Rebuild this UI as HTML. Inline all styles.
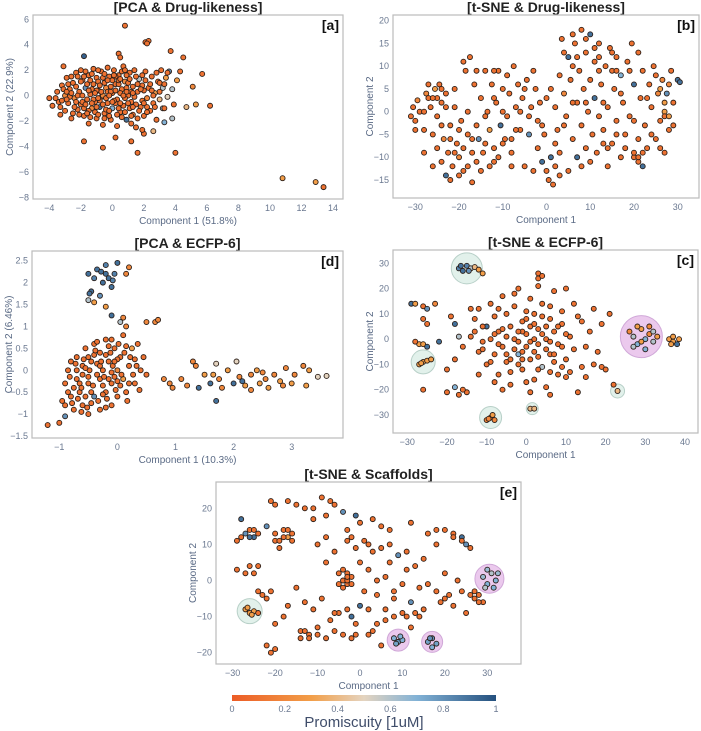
<!DOCTYPE html>
<html><head><meta charset="utf-8"><style>
body{margin:0;background:#fff;width:701px;height:731px;overflow:hidden;font-family:"Liberation Sans",sans-serif}
svg{position:absolute;left:0;top:0}
</style></head><body>
<svg id="chart" width="701" height="731" xmlns="http://www.w3.org/2000/svg"></svg>
<script>
const aTicksX=[-4,-2,0,2,4,6,8,10,12,14], aTicksY=[-8,-6,-4,-2,0,2,4,6];
const bTicksX=[-30,-20,-10,0,10,20,30], bTicksY=[-15,-10,-5,0,5,10,15,20];
const dTicksX=[-1,0,1,2,3], dTicksY=[-1.5,-1,-0.5,0,0.5,1,1.5,2,2.5];
const cTicksX=[-30,-20,-10,0,10,20,30,40], cTicksY=[-30,-20,-10,0,10,20,30];
const eTicksX=[-30,-20,-10,0,10,20,30], eTicksY=[-20,-10,0,10,20];
const cbTicks=[0,0.2,0.4,0.6,0.8,1];
const aPoints=[[0.8,5.5,.1],[2.1,4.2,.1],[2.3,4.3,.1],[2.2,4.1,.1],[3.7,3.5,.1],[0.4,3.3,.1],[0.5,3.0,.1],[-1.8,3.1,.95],[-3.1,2.3,.1],[4.5,3.0,.1],[5.7,1.7,.1],[5.1,0.7,.2],[6.2,-0.8,.1],[5.3,-0.7,.3],[4.7,-0.9,.4],[-1.8,-3.6,.1],[-0.6,-4.1,.1],[0.2,-3.3,.1],[1.6,-4.5,.1],[4.0,-4.5,.1],[1.2,-3.6,.1],[10.8,-6.5,.3],[12.9,-6.8,.3],[13.4,-7.2,.1],[3.8,-1.8,.6],[3.3,-2.1,.7],[3.2,-1.0,.65],[2.6,-2.8,.4],[-4,-0.2,.1],[-3.8,-0.8,.1],[-3.3,-1.5,.1],[2,-3,.1],[1.9,-2.7,.1],
[-3.5,0.3,.1],[-3.4,-0.5,.1],[-3.2,0.8,.1],[-3.0,-1.2,.1],[-3.0,0.0,.2],[-2.9,1.4,.1],[-2.8,-0.6,.1],[-2.7,0.5,.1],[-2.6,-1.8,.1],[-2.5,1.0,.1],[-2.4,-0.2,.2],[-2.3,1.8,.1],[-2.2,-1.1,.1],[-2.1,0.3,.1],[-2.0,2.0,.1],[-2.0,-0.7,.1],[-1.9,1.2,.1],[-1.8,-1.6,.1],[-1.7,0.6,.8],[-1.6,-0.3,.1],[-1.5,1.6,.1],[-1.5,-2.2,.1],[-1.4,0.1,.1],[-1.3,-1.0,.2],[-1.2,2.1,.1],[-1.2,0.9,.1],[-1.1,-0.5,.1],[-1.0,1.4,.1],[-1.0,-1.8,.1],[-0.9,0.4,.1],[-0.8,-0.9,.9],[-0.7,1.9,.1],[-0.7,-0.1,.1],[-0.6,-2.3,.1],[-0.5,1.0,.1],[-0.5,-1.4,.1],[-0.4,0.6,.2],[-0.3,2.2,.1],[-0.3,-0.6,.1],[-0.2,1.5,.1],[-0.1,-1.9,.1],[0.0,0.2,.1],[0.0,-1.0,.7],[0.1,2.0,.1],[0.2,0.9,.1],[0.3,-0.3,.1],[0.3,-2.4,.1],[0.4,1.6,.1],[0.5,-1.3,.1],[0.6,0.5,.1],[0.7,2.3,.1],[0.7,-0.8,.1],[0.8,1.1,.2],[0.9,-1.9,.9],[1.0,0.0,.1],[1.1,1.8,.1],[1.2,-0.5,.1],[1.3,0.7,.1],[1.3,-1.5,.1],[1.4,2.0,.1],[1.5,-2.5,.1],[1.6,0.3,.1],[1.7,1.3,.6],[1.8,-0.9,.1],[1.9,0.8,.1],[2.0,-1.6,.1],[2.1,1.9,.1],[2.2,-0.2,.2],[2.3,0.6,.1],[2.4,-1.2,.1],[2.5,1.5,.1],[2.6,-0.6,.1],[2.7,0.2,.3],[2.8,-1.9,.1],[2.9,1.1,.1],[3.0,-0.3,.4],[3.1,2.0,.1],[3.2,0.6,.6],[3.3,-1.0,.1],[3.4,1.4,.3],[3.5,-0.1,.5],[3.6,1.9,.8],[3.8,0.5,.6],[3.9,-0.7,.1],[4.1,1.2,.3],[4.3,1.9,.1],[-2.7,-0.1,.1],[-2.3,0.7,.1],[-1.9,-0.5,.1],[-1.6,0.9,.1],[-1.3,0.5,.1],[-1.1,-1.3,.1],[-0.9,1.1,.1],[-0.6,0.0,.2],[-0.4,-1.1,.1],[-0.1,0.7,.1],[0.2,-0.6,.1],[0.5,0.2,.1],[0.8,-0.2,.1],[1.0,1.0,.1],[1.4,-0.1,.1],[1.7,-1.2,.1],[2.0,0.4,.1],[2.4,0.9,.1],[-3.3,-0.9,.1],[-2.5,-1.4,.1],[-1.4,-1.7,.1],[-0.2,-1.6,.1],[0.6,-1.7,.1],[1.2,-2.2,.1],[-1.7,1.9,.1],[-0.9,2.0,.1],[0.0,1.2,.1],[0.9,1.6,.1],[1.9,1.6,.1],[-2.0,1.1,.1],[-1.2,-0.3,.1],[-0.3,0.3,.1],[0.4,-1.0,.1],[1.6,0.9,.1],[2.6,0.0,.1],[3.0,1.0,.1],[-2.8,0.9,.1],[-1.0,0.4,.1],[0.2,1.5,.1],[1.1,-1.0,.1],[-2.2,0.0,.1],[-1.8,-1.0,.1],[-0.8,-0.4,.1],[0.1,-0.4,.1],[0.9,0.6,.1],[1.5,-0.7,.1],[-2.4,-0.9,.1],[-1.5,0.4,.1],[-0.6,1.4,.1],[0.4,0.9,.1],[1.2,0.3,.1],[2.2,-0.9,.1],
[-3.6,-0.2,.1],[-3.1,0.5,.1],[-2.9,-0.3,.1],[-2.6,0.2,.1],[-2.6,1.5,.1],[-2.3,-0.5,.1],[-2.1,-1.5,.1],[-1.9,0.0,.1],[-1.8,1.5,.1],[-1.7,-0.7,.1],[-1.5,-1.2,.1],[-1.4,1.2,.1],[-1.3,-0.6,.1],[-1.1,0.2,.1],[-1.0,-0.9,.1],[-0.9,-1.5,.1],[-0.8,0.8,.1],[-0.7,0.3,.1],[-0.6,-0.7,.1],[-0.5,1.7,.1],[-0.4,-0.2,.1],[-0.3,1.2,.1],[-0.2,-1.2,.1],[-0.1,0.3,.1],[0.0,-0.5,.1],[0.1,1.6,.1],[0.2,0.4,.1],[0.3,-1.5,.1],[0.4,1.2,.1],[0.5,-0.6,.1],[0.6,1.9,.1],[0.7,0.0,.1],[0.8,-1.3,.1],[0.9,0.3,.1],[1.0,-0.6,.1],[1.1,1.3,.1],[1.2,-1.6,.1],[1.3,0.2,.1],[1.5,1.5,.1],[1.6,-1.8,.1],[1.8,0.5,.1],[1.9,-0.4,.1],[2.1,1.2,.1],[2.2,-1.3,.1],[2.5,0.4,.1],[2.7,-0.9,.1],[2.8,1.8,.1],[3.0,0.3,.1],[3.3,0.9,.1],[3.5,1.8,.1],[-2.2,1.5,.1],[-1.6,-1.4,.1],[-0.9,-0.2,.1],[-0.2,0.0,.1],[0.5,1.3,.1],[1.3,-0.9,.1],[2.0,-0.6,.1],[-1.3,1.7,.1],[-0.5,-1.8,.1],[0.8,2.0,.1],[-2.9,0.3,.1],[-3.2,-0.4,.1]];
const bPoints=[[-31,-1,.1],[-30.5,1,.1],[-30,-2,.1],[-29.5,2.5,.2],[-29,0,.1],[-28,-4,.1],[-27.5,4,.2],[-27,6,.1],[-26.5,1,.1],[-26,-5,.1],[-25.5,5,.3],[-25,3,.1],[-25,-8,.1],[-24.5,6,.1],[-24,2,.1],[-24,-11,.1],[-23.5,-6,.2],[-23,4,.1],[-23,-14,.9],[-22.5,-9,.1],[-22,-3,.1],[-22,-15,.1],[-21.5,-12,.1],[-21,1,.1],[-20.5,-7,.1],[-20,-10,.2],[-19.5,-2,.1],[-19,11,.1],[-19,-13,.1],[-18.5,9,.1],[-18,0,.1],[-18,-5,.1],[-17.5,12,.1],[-17,-15.5,.1],[-17,-9,.1],[-16.5,6,.1],[-16,-3,.1],[-16,-11,.1],[-15.5,-6,.8],[-15,3,.1],[-14.5,-9,.1],[-14,9,.1],[-13.5,0,.1],[-13,-4,.3],[-13,-12,.1],[-12.5,6,.1],[-12,-8,.1],[-11.5,2,.1],[-11,9,.1],[-11,-10,.1],[-10.5,-3,.9],[-10,5,.1],[-9.5,-6,.1],[-9,8,.1],[-9,-1,.1],[-8.5,4,.1],[-8,-9,.1],[-7.5,10,.1],[-7,1,.1],[-6.5,6,.1],[-6,-4,.1],[-5.5,3,.1],[-5,-12,.1],[-4.5,7,.1],[-4,-5,.8],[-3.5,1,.1],[-3,-13,.1],[-2.5,5,.1],[-2,-8,.1],[-1.5,2,.1],[-1,-11,.9],[-0.5,-5,.1],[0,3,.1],[0.5,-15,.1],[1,-10,.9],[1.5,-16,.1],[2,1,.1],[2.5,-4,.1],[3,8,.1],[3,-9,.1],[3.5,16,.1],[4,4,.2],[4.5,-1,.1],[5,12,.9],[5,-13,.1],[5.5,7,.1],[6,-6,.1],[6.5,15,.1],[7,2,.1],[7,-10,.9],[7.5,9,.1],[8,18,.1],[8,-3,.1],[8.5,5,.1],[9,13,.1],[9,-8,.1],[9.5,0,.1],[10,17,.9],[10,7,.1],[10.5,-5,.1],[11,11,.1],[11,3,.9],[11.5,-9,.1],[12,15,.1],[12,-1,.1],[12.5,6,.1],[13,-4,.1],[13.5,10,.1],[14,1,.1],[14,-12,.1],[14.5,14,.1],[15,-7,.1],[15.5,5,.1],[16,12,.1],[16,-2,.1],[17,8,.7],[17,-10,.1],[17.5,2,.1],[18,-5,.1],[18.5,11,.1],[19,-1,.1],[19.5,15,.1],[20,-10,.1],[20,6,.9],[21,-11,.1],[21.5,3,.1],[22,9,.1],[22.5,-3,.1],[23,-8,.1],[23.5,6,.1],[24,1,.1],[24.5,10,.1],[25,-6,.1],[25.5,4,.2],[26,-2,.1],[26.5,7,.2],[27,0,.3],[27,-9,.1],[27.5,4,.8],[28,-4,.1],[28.5,9,.1],[29,2,.1],[30,7,.9],[30.5,6.5,.9],[-28,-9,.1],[-26,-12,.1],[-20,-4,.1],[-21,5,.1],[-12,3,.1],[-8,-6,.1],[-2,-2,.1],[6,10,.1],[13,-7,.1],[20,-9,.1],[22,-12,.9],[27,-1,.1],[-24,5,.1],[-27,3,.1],[-19,-8,.1],[-14,-1,.1],[2,-12,.1],[9,2,.1],[15,9,.1],[21,-6,.1],[26,5,.3],[-6,0,.1],
[-30,-4,.1],[-28,0,.1],[-26,3,.1],[-25,-1,.1],[-23,1,.1],[-24,-3,.1],[-22,-6,.1],[-21,-9,.1],[-20,-14,.1],[-18,-12,.1],[-17,-6,.1],[-15,-13,.1],[-14,-7,.1],[-12,-11,.1],[-10,-7,.1],[-8,-12,.1],[-7,-4,.1],[-5,5,.1],[-3,9,.1],[-1,-3,.1],[1,5,.1],[2,-7,.1],[4,13,.1],[4,-3,.1],[6,2,.1],[7,12,.1],[8,-12,.1],[9,16,.1],[10,-11,.1],[11,14,.1],[12,9,.1],[13,2,.1],[14,-8,.1],[15,13,.1],[16,-5,.1],[17,4,.1],[18,-8,.1],[19,9,.1],[20,-2,.1],[21,13,.1],[22,-9,.1],[23,3,.1],[24,-5,.1],[25,8,.1],[26,-8,.1],[27,2,.3],[28,6,.2],[28,-1,.3],[29,-3,.1],[-16,9,.1],[-12,9,.1],[-10,0,.1],[-4,-1,.1],[0,-13,.1],[3,-14,.1],[6,17,.1],[12,12,.1],[16,9,.1],[21,-10,.1]];
const dPoints=[[-0.9,-0.3,.1],[-0.85,0,.1],[-0.8,-0.6,.1],[-0.8,0.2,.1],[-0.75,-0.9,.1],[-0.7,-0.2,.1],[-0.7,0.3,.1],[-0.65,-0.5,.1],[-0.6,0.1,.1],[-0.6,-0.8,.1],[-0.55,0.5,.1],[-0.5,-0.3,.1],[-0.5,-1.0,.1],[-0.45,0.2,.1],[-0.4,-0.6,.8],[-0.4,0.6,.1],[-0.35,-0.1,.1],[-0.3,0.4,.1],[-0.3,-0.9,.1],[-0.25,0,.1],[-0.2,-0.5,.1],[-0.2,0.7,.1],[-0.15,0.2,.1],[-0.1,-0.3,.1],[-0.1,-0.8,.1],[-0.05,0.5,.1],[0,0,.2],[0,-0.6,.1],[0.05,0.3,.1],[0.1,-0.2,.3],[0.1,0.8,.1],[0.15,-0.5,.1],[0.2,0.1,.1],[0.25,0.5,.3],[0.3,-0.3,.1],[0.35,0.6,.1],[0.4,0.0,.1],[0.45,0.3,.1],[0.5,-0.1,.1],[-0.75,-0.4,.1],[-0.6,-0.1,.1],[-0.5,0.3,.1],[-0.45,-0.5,.1],[-0.35,0.15,.1],[-0.25,-0.35,.1],[-0.2,0.35,.1],[-0.1,-0.05,.1],[0,0.25,.1],[0.05,-0.35,.1],[-0.55,-0.6,.1],[-0.3,-0.2,.1],[-0.15,0.55,.1],[-0.65,-0.3,.1],[-0.4,0.35,.1],[-0.05,-0.15,.1],[0.2,-0.3,.1],[-0.85,-0.5,.1],[-0.7,0.0,.1],[-0.5,-0.15,.1],[-0.3,0.1,.1],[-0.15,-0.2,.1],[0.3,0.25,.1],
[-0.82,-0.15,.1],[-0.78,-0.75,.1],[-0.72,0.15,.1],[-0.68,-0.65,.1],[-0.62,-0.4,.1],[-0.58,0.25,.1],[-0.52,-0.85,.1],[-0.48,0.0,.1],[-0.42,-0.35,.1],[-0.38,0.45,.1],[-0.33,-0.7,.1],[-0.28,0.2,.1],[-0.23,-0.15,.1],[-0.18,-0.65,.1],[-0.12,0.4,.1],[-0.08,0.1,.1],[-0.03,-0.45,.1],[0.02,0.6,.1],[0.07,-0.1,.1],[0.12,0.4,.1],[0.17,-0.7,.1],[0.22,0.3,.1],[0.27,-0.1,.1],[0.33,0.1,.1],[0.38,-0.45,.1],[-0.9,-0.8,.1],[-0.62,-0.95,.1],[-0.45,-0.75,.1],[-0.25,-0.55,.1],[-0.35,0.65,.1],[-0.1,0.7,.1],[0.15,0.55,.1],[-0.55,0.05,.1],[-0.05,0.2,.1],[-0.2,-0.85,.1],[0.0,-0.25,.1],
[-1.2,-1.25,.1],[-1.0,-1.2,.1],[-0.9,-1.05,.8],[-0.95,-0.7,.1],
[-0.5,2.2,.9],[-0.45,1.8,.9],[-0.4,2.1,.85],[-0.35,2.3,.9],[-0.3,1.7,.8],[-0.25,2.0,.9],[-0.2,2.4,.85],[-0.15,2.1,.9],[-0.1,1.9,.9],[-0.05,2.2,.85],[0,2.45,.9],[-0.5,1.6,.6],[-0.2,2.2,.9],[0.15,2.2,.2],[0.2,2.35,.2],[-0.4,1.55,.3],[-0.2,1.45,.3],[-0.1,1.25,.9],[-0.48,1.75,.9],[-0.28,2.25,.9],[-0.08,2.05,.85],
[0.05,1.1,.6],[0.1,1.2,.2],[0.15,1.0,.2],[0.5,1.1,.2],[0.65,1.1,.2],[0.7,1.15,.2],
[0.8,-0.2,.2],[0.9,-0.3,.2],[0.95,-0.4,.2],[1.1,-0.2,.2],[1.3,0.2,.2],[1.35,0.1,.2],[1.4,-0.4,.9],[1.5,-0.1,.3],[1.6,-0.3,.9],[1.7,0.15,.5],[1.75,-0.2,.2],[1.8,-0.4,.2],[1.9,0,.3],[2.0,-0.3,.9],[2.05,0.2,.5],[2.1,-0.15,.2],[2.2,-0.35,.3],[2.3,-0.1,.2],[2.4,0,.3],[2.45,-0.3,.3],[2.5,-0.05,.2],[2.6,-0.4,.3],[2.7,-0.1,.2],[2.8,-0.25,.3],[2.9,0.05,.2],[3.0,-0.3,.3],[3.05,-0.1,.2],[3.2,0.1,.2],[3.25,-0.35,.3],[3.3,0.0,.3],[3.45,-0.15,.5],[3.6,-0.13,.5],[1.7,-0.7,.9],[2.3,-0.45,.2],[1.2,-0.35,.2],[1.65,-0.1,.3],[2.15,-0.25,.9],[2.55,-0.2,.2],[2.85,-0.35,.2]];
const cCircles=[[-15,28,15.5,0],[-26,-9,12,0],[-9,-31,11,0],[1.5,-27.5,6,0],[23,-20.5,7,0],[29,1,21,1]];
const cPoints=[[-17,28,.85],[-16,27,.9],[-15,29,.85],[-14,28,.6],[-13,28.5,.4],[-12,27.5,.3],[-16.5,29,.9],[-14.5,27,.8],[-11,26,.3],[-27,-10,.3],[-26,-9,.3],[-25,-8.5,.3],[-24,-8,.3],[-26.5,-9.5,.3],[-10,-32,.2],[-9,-31,.2],[-8.5,-30,.3],[-9.5,-31.5,.2],[-8,-32,.2],[1,-27.5,.4],[2,-27.5,.4],[23,-20.5,.4],[26,3,.2],[27,1,.6],[28,-2,.7],[29,4,.3],[30,0,.7],[31,2,.2],[32,-1,.6],[28,5,.3],[30,-4,.7],[31,5,.2],[33,1,.3],[27,-3,.6],[29,-1,.3],[32,3,.6],[36,0,.3],[37,-1,.3],[38,-2,.9],[37,1,.3],[38.5,0,.3],[36.5,-2,.3],[-29,14,.9],[-28,14,.3],[-26,13,.1],[-25,12,.8],[-23,14,.2],[-26,8,.1],[-25,6,.1],[-27,-2,.3],[-26,-2,.3],[-25,-3,.9],[-22,-1,.9],[-20,-12,.1],[-18,-19,.7],[-17,-22,.1],[-15,-21,.1],[-16,-20,.1],[-14,1,.1],[-13,8,.1],[-12,-5,.1],[-12,12,.1],[-11,-1,.1],[-10,5,.9],[-10,-10,.1],[-9,14,.1],[-9,0,.1],[-8,-6,.1],[-8,9,.1],[-7,-14,.1],[-7,3,.1],[-6,17,.1],[-6,-3,.1],[-5,10,.1],[-5,-9,.1],[-4,-18,.1],[-4,5,.1],[-3,0,.1],[-3,13,.1],[-2,-6,.7],[-2,20,.1],[-1,-12,.1],[-1,7,.1],[0,2,.1],[0,-3,.1],[1,16,.1],[1,-8,.1],[2,10,.1],[2,-16,.1],[3,24,.1],[3,4,.1],[3,-2,.1],[4,-11,.6],[4,14,.1],[5,0,.1],[5,-19,.1],[6,8,.1],[6,-6,.1],[7,19,.1],[7,3,.1],[8,-14,.1],[8,-2,.1],[9,11,.1],[9,6,.1],[10,-8,.1],[10,20,.1],[11,1,.1],[12,-4,.1],[12,14,.1],[13,-21,.1],[14,7,.1],[14,-11,.1],[15,-3,.1],[16,3,.1],[17,-10,.1],[18,-5,.1],[19,6,.1],[17,12,.1],[-12,-14,.1],[-14,12,.1],[-11,5,.1],[-4,-13,.1],[1,-21,.1],[6,-22,.1],[-6,-20,.1],[-2,-1,.1],[0,8,.1],[4,2,.1],[2,-5,.1],[-1,3,.1],[5,5,.1],[-3,-4,.1],[7,-9,.1],[-8,2,.1],[21,10,.1],[22,-18,.1],[-18,6,.9],[-19,9,.1],[-17,1,.6],[-16,-3,.1],[-18,-8,.1],[-5,-6,.1],[-1,-8,.1],[3,-7,.1],[6,-13,.1],[9,-3,.1],[-7,-2,.1],[1,5,.1],
[-6,4,.1],[-4,-8,.1],[-2,3,.1],[-1,-5,.1],[0,11,.1],[1,-1,.1],[2,6,.1],[3,-12,.1],[4,9,.1],[5,-4,.1],[6,13,.1],[7,-6,.1],[8,5,.1],[9,-11,.1],[10,2,.1],[11,-13,.1],[13,9,.1],[15,-15,.1],[-9,-9,.1],[-11,-4,.1],[-13,3,.1],[-7,12,.1],[-3,18,.1],[3,21,.1],[3,26,.1],[4,25,.1],[-8,-17,.1],[0,-17,.1],[-5,1,.1],[2,0,.1],[6,-1,.1],[-2,-10,.1],[19,-11,.1],[20,-12,.1],[10,-15,.1],[-28,-1,.1],[-26,-20,.1],[-20,-21,.1]];
const eCircles=[[-26,-8.5,12.5,0],[30.5,0.5,14.5,1],[9,-16.5,11,1],[17,-17,10.5,1]];
const ePoints=[[-27,-8,.3],[-26,-9,.3],[-25,-8.5,.3],[-25.5,-9.5,.3],[-26.5,-7.5,.3],[29,1,.65],[30,-1,.7],[31,2,.6],[32,0,.7],[30,3,.65],[29.5,-2,.6],[31.5,-2,.7],[32.5,2,.65],[8,-16,.7],[9,-17,.8],[10,-16.5,.7],[8.5,-17.5,.75],[9.5,-15.5,.7],[16,-17,.75],[17,-16,.8],[18,-17.5,.75],[17,-18.5,.7],[16.5,-16,.8],
[-29,3,.1],[-29,11,.1],[-28,17,.9],[-27,13,.8],[-26,14,.1],[-25,12,.9],[-24,4,.1],[-25,2,.1],[-23,-4,.1],[-21,-3,.1],[-22,15,.8],[-20,11,.1],[-19,9,.1],[-18,14,.1],[-17,12,.3],[-16,13,.1],[-21,22,.1],[-20,21,.1],[-17,22,.1],[-15,21,.1],[-13,20,.1],[-11,17,.1],[-9,23,.1],[-8,18,.1],[-6,21,.1],[-4,19,.8],[-3,14,.1],[-1,18,.9],[0,16,.1],[3,17,.1],[5,15,.1],[7,14,.1],[12,16,.1],[-10,10,.1],[-8,5,.1],[-6,8,.1],[-4,0,.1],[-3,-1,.1],[-2,1,.1],[-5,2,.1],[-3,11,.1],[-1,9,.1],[1,11,.1],[3,8,.1],[5,9,.1],[7,10,.1],[9,7,.8],[11,3,.1],[13,4,.1],[15,6,.1],[16,13,.1],[18,10,.1],[20,14,.1],[22,13,.1],[24,12,.9],[25,10,.8],[26,9,.1],[27,-5,.1],[28,-4,.1],[29,-6,.1],[26,-4,.1],[25,-9,.1],[22,-7,.1],[20,-5,.1],[18,-3,.1],[16,-1,.1],[14,-2,.1],[12,-6,.8],[10,-9,.1],[8,-10,.1],[6,-8,.1],[4,-12,.1],[2,-15,.1],[0,-7,.9],[-1,-12,.1],[-2,-16,.1],[-4,-15,.1],[-6,-14,.1],[-8,-16,.1],[-10,-13,.1],[-12,-15,.1],[-14,-14,.1],[-15,-2,.1],[-13,-6,.1],[-11,-8,.1],[-9,-5,.1],[-7,-11,.1],[-22,-18,.1],[-21,-20,.1],[-20,-12,.1],[-18,-10,.1],[-17,-7,.1],[6,1,.1],[8,-3,.1],[10,-1,.1],[4,-4,.1],[2,3,.1],[0,5,.1],[14,-10,.1],[20,2,.1],[23,0,.1],[24,-3,.1],[-3,-8,.1],[5,-18,.1],[12,-13,.1],[-2,-10,.9],[-5,-9,.1],[2,-8,.1],[-4,3,.1],[-3,2,.1],
[-28,12,.1],[-26,12,.9],[-25,14,.1],[-24,13,.1],[-27,2,.1],[-26,4,.1],[-24,-3,.1],[-22,-5,.1],[-19,11,.1],[-18,12,.1],[-17,14,.1],[-16,11,.1],[-20,13,.1],[-3,0,.1],[-4,-2,.1],[-2,-1,.1],[-3,1,.1],[-5,-1,.1],[-14,-16,.1],[-12,-16,.1],[-13,-14,.1],[-10,-15,.1],[-6,-9,.1],[-1,-15,.1],[3,-14,.1],[6,-11,.1],[11,-10,.1],[13,-9,.1],[15,-8,.1],[19,-6,.1],[21,-4,.1],[27,-3,.1],[28,-6,.1],[24,11,.1],[22,12,.1],[18,14,.1],[11,8,.1],[7,5,.1],[4,0,.1],[1,-3,.1],[-8,12,.1],[-11,20,.1],[-7,22,.1],[-2,12,.1],[2,10,.1],[-24,-9,.1],[-20,-19,.1],[8,-5,.1]];

const NS='http://www.w3.org/2000/svg';
const svg=document.getElementById('chart');
function mk(tag,attrs,parent){const e=document.createElementNS(NS,tag);for(const k in attrs)e.setAttribute(k,attrs[k]);(parent||svg).appendChild(e);return e;}
const stops=[[0,[236,92,38]],[0.3,[242,158,72]],[0.5,[228,212,192]],[0.7,[130,178,214]],[1,[36,80,126]]];
function color(v){for(let i=1;i<stops.length;i++){if(v<=stops[i][0]){const a=stops[i-1],b=stops[i];const t=(v-a[0])/(b[0]-a[0]);return 'rgb('+a[1].map((c,j)=>Math.round(c+(b[1][j]-c)*t)).join(',')+')';}}return 'rgb(36,80,126)';}
function lin(v1,p1,v2,p2){return v=>p1+(v-v1)*(p2-p1)/(v2-v1);}

const panels=[
 {key:'a',title:'[PCA & Drug-likeness]',box:[33,15,343,199],sx:lin(-4,49.3,14,333),sy:lin(6,19.3,-8,197.3),tx:aTicksX,ty:aTicksY,pts:aPoints,circ:[],xl:'Component 1 (51.8%)',yl:'Component 2 (22.9%)'},
 {key:'b',title:'[t-SNE & Drug-likeness]',box:[393,15,699,198],sx:lin(-30,415.3,30,677.7),sy:lin(20,20.7,-15,180),tx:bTicksX,ty:bTicksY,pts:bPoints,circ:[],xl:'Component 1',yl:'Component 2'},
 {key:'d',title:'[PCA & ECFP-6]',box:[32,251,343,438],sx:lin(-1,59.3,3,291.7),sy:lin(2.5,260.7,-1.5,436),tx:dTicksX,ty:dTicksY,pts:dPoints,circ:[],xl:'Component 1 (10.3%)',yl:'Component 2 (6.46%)'},
 {key:'c',title:'[t-SNE & ECFP-6]',box:[393,250,698,433],sx:lin(-30,407.3,40,685),sy:lin(30,263.3,-30,415),tx:cTicksX,ty:cTicksY,pts:cPoints,circ:cCircles,xl:'Component 1',yl:'Component 2'},
 {key:'e',title:'[t-SNE & Scaffolds]',box:[216,482,521,664],sx:lin(-30,232.7,30,487.3),sy:lin(20,508.3,-20,652.7),tx:eTicksX,ty:eTicksY,pts:ePoints,circ:eCircles,xl:'Component 1',yl:'Component 2'}
];
panels.forEach(p=>{
 const [x0,y0,x1,y1]=p.box;
 const g=mk('g',{});
 
 
 const t=mk('text',{x:(x0+x1)/2,y:y0-3,'text-anchor':'middle','font-size':14,'font-weight':'bold',fill:'#222'},g);t.textContent=p.title;
 
 
 const r=mk('rect',{x:x0,y:y0,width:x1-x0,height:y1-y0,fill:'#fff',stroke:'#bbb','stroke-width':1.2},g);
 
 
 p.tx.forEach(v=>{const e=mk('text',{x:p.sx(v),y:y1+12,'text-anchor':'middle','font-size':9,fill:'#6a7890'},g);e.textContent=String(v).replace('-','\u2212');
  
  });
 p.ty.forEach(v=>{const e=mk('text',{x:x0-4,y:p.sy(v)+3,'text-anchor':'end','font-size':9,fill:'#6a7890'},g);e.textContent=String(v).replace('-','\u2212');
  
  });
 const xl=mk('text',{x:(x0+x1)/2,y:y1+25,'text-anchor':'middle','font-size':10,fill:'#5a6a85'},g);xl.textContent=p.xl;
 
 
 const yc=(y0+y1)/2;
 const yl=mk('text',{x:x0-20,y:yc,'text-anchor':'middle','font-size':10,fill:'#5a6a85',transform:'rotate(-90 '+(x0-20)+' '+yc+')'},g);yl.textContent=p.yl;
 
 
 p.circ.forEach(c=>{const e=mk('circle',{cx:p.sx(c[0]),cy:p.sy(c[1]),r:c[2],fill:c[3]?'rgba(205,120,210,0.4)':'rgba(190,225,210,0.45)',stroke:c[3]?'#d0a8d8':'#b8d0c8','stroke-width':1},g);
  
  });
 p.pts.forEach(pt=>{const e=mk('circle',{cx:p.sx(pt[0]),cy:p.sy(pt[1]),r:2.5,fill:color(pt[2]),stroke:'#2a1e18','stroke-width':0.9},g);
  
  });
 const lb=mk('text',{x:x1-4,y:y0+15,'text-anchor':'end','font-size':14,'font-weight':'bold',fill:'#111'},g);lb.textContent='['+p.key+']';
 
 
});
const defs=mk('defs',{});
const lg=mk('linearGradient',{id:'cb',x1:0,x2:1,y1:0,y2:0},defs);
stops.forEach(s=>mk('stop',{offset:s[0],'stop-color':color(s[0])},lg));
const cbx0=232,cbx1=496;
const cb=mk('rect',{x:cbx0,y:695,width:cbx1-cbx0,height:6,fill:'url(#cb)'});


const cs=lin(0,cbx0,1,cbx1);
cbTicks.forEach(v=>{const e=mk('text',{x:cs(v),y:712,'text-anchor':'middle','font-size':9,fill:'#6a7890'});e.textContent=String(v);
 
 });
const ct=mk('text',{x:(cbx0+cbx1)/2,y:727,'text-anchor':'middle','font-size':15,fill:'#3f4d6a'});ct.textContent='Promiscuity [1uM]';


</script>
</body></html>
